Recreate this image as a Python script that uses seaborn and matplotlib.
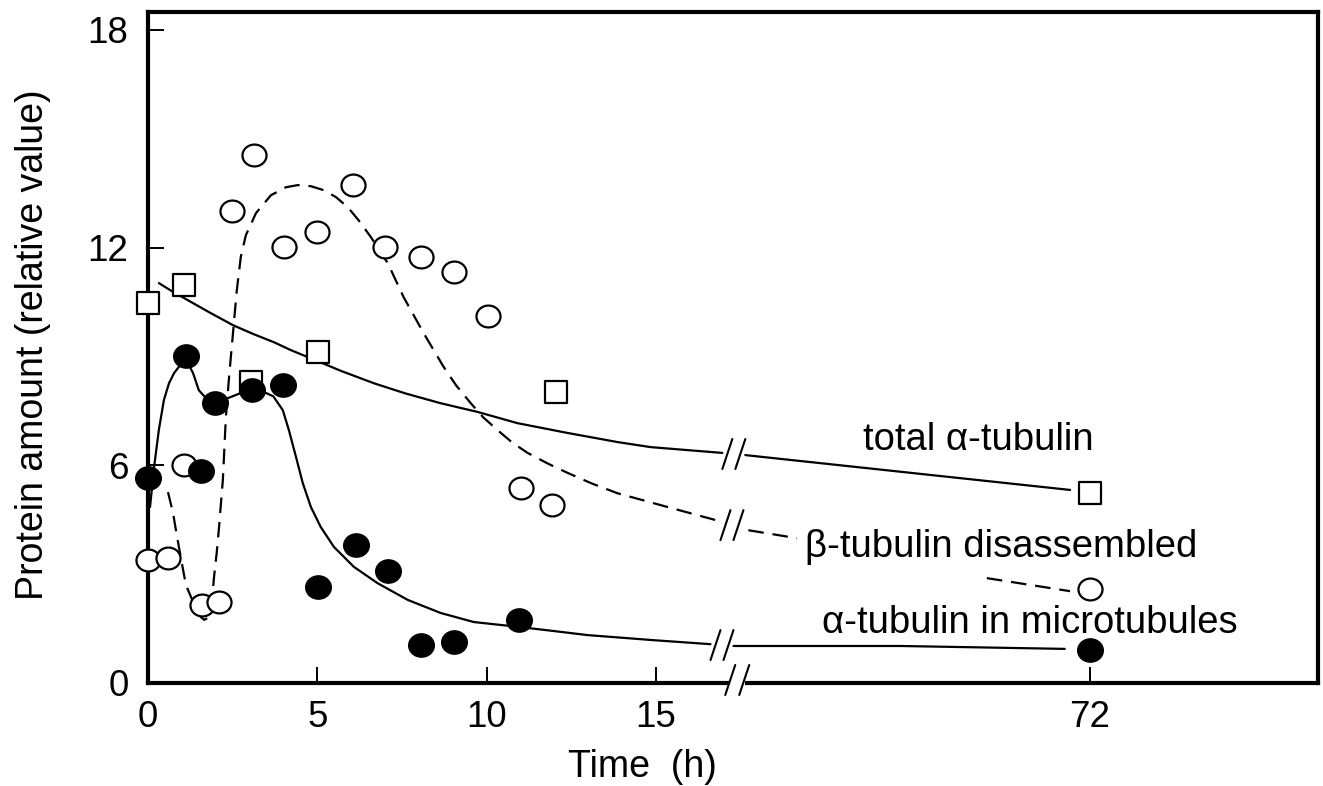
import numpy as np
import pandas as pd
import matplotlib
matplotlib.use("Agg")
import matplotlib.pyplot as plt
import seaborn as sns
from matplotlib.lines import Line2D
from matplotlib.path import Path
from matplotlib.transforms import Affine2D, IdentityTransform

# ---------------- data ----------------
# beta-tubulin disassembled (open circles)
beta_t = [0, 0.6, 1.05, 1.6, 2.1, 2.48, 3.13, 4.01, 4.99, 6.05, 6.99, 8.05, 9.03, 10.03, 11.0, 11.92, 72]
beta_y = [3.39, 3.44, 6.0, 2.15, 2.23, 13.0, 14.55, 12.01, 12.42, 13.72, 12.01, 11.74, 11.32, 10.11, 5.37, 4.9, 2.6]
# alpha-tubulin in microtubules (filled circles)
micro_t = [0, 1.12, 1.56, 1.98, 3.07, 3.98, 5.01, 6.14, 7.08, 8.05, 9.03, 10.97, 72]
micro_y = [5.65, 9.01, 5.84, 7.71, 8.07, 8.21, 2.64, 3.8, 3.09, 1.05, 1.13, 1.74, 0.91]
# total alpha-tubulin (open squares)
total_t = [0, 1.06, 3.04, 5.01, 12.04, 72]
total_y = [10.47, 10.96, 8.3, 9.12, 8.02, 5.23]

# hand-drawn guide curves (segments split at the axis break)
total_curve_t = [0.32, 0.7, 1.06, 1.8, 2.51, 3.1, 3.72, 4.2, 4.72, 5.7, 6.67, 7.6, 8.64, 9.73,
                 10.91, 12.39, 13.86, 14.84, 16.96]
total_curve_y = [11.02, 10.80, 10.61, 10.22, 9.86, 9.62, 9.39, 9.18, 8.98, 8.60, 8.26, 7.98,
                 7.71, 7.47, 7.16, 6.89, 6.64, 6.50, 6.34]
total_tail_t = [20.25, 69.0]
total_tail_y = [6.28, 5.32]

beta_curve_t = [0.59, 0.74, 0.86, 1.0, 1.12, 1.27, 1.42, 1.56, 1.66, 1.78, 1.88, 1.95, 2.03,
                2.09, 2.15, 2.21, 2.30, 2.40, 2.51, 2.62, 2.74, 2.89, 3.19, 3.63, 4.07,
                4.42, 4.81, 5.19, 5.55, 5.90, 6.22, 6.58, 7.08, 7.55, 8.14, 8.73, 9.1,
                9.53, 9.9, 10.32, 10.75, 11.21, 11.8, 12.39, 13.1, 13.86, 15.34, 16.76]
beta_curve_y = [5.26, 4.68, 4.02, 3.30, 2.70, 2.37, 2.05, 1.82, 1.74, 1.80, 2.20, 2.92, 3.60,
                4.21, 4.90, 5.59, 7.33, 8.50, 9.64, 10.80, 11.74, 12.34, 12.95, 13.44, 13.66,
                13.72, 13.69, 13.58, 13.39, 13.11, 12.75, 12.29, 11.57, 10.63, 9.64, 8.71, 8.20,
                7.71, 7.32, 6.97, 6.63, 6.34, 6.05, 5.79, 5.50, 5.23, 4.85, 4.49]
beta_tail1_t = [20.7, 28.0]
beta_tail1_y = [4.21, 3.99]
beta_tail2_t = [56.5, 69.0]
beta_tail2_y = [2.89, 2.53]

micro_curve_t = [0.06, 0.18, 0.32, 0.47, 0.62, 0.77, 0.91, 1.02, 1.12, 1.22, 1.33, 1.5, 1.71,
                 2.0, 2.36, 2.74, 3.13, 3.42, 3.7, 3.98, 4.16, 4.37, 4.57, 4.81, 5.1, 5.49,
                 6.08, 6.78, 7.67, 8.64, 9.62, 10.41, 11.0, 12.0, 12.98, 14.93, 16.61]
micro_curve_y = [4.85, 5.95, 6.97, 7.80, 8.26, 8.54, 8.71, 8.79, 8.82, 8.74, 8.54, 8.07, 7.85,
                 7.74, 7.85, 7.99, 8.02, 8.02, 7.90, 7.52, 6.97, 6.23, 5.51, 4.85, 4.30, 3.75,
                 3.20, 2.75, 2.29, 1.93, 1.68, 1.60, 1.54, 1.43, 1.32, 1.18, 1.07]
micro_tail_t = [18.47, 43.5, 68.2]
micro_tail_y = [1.02, 1.02, 0.94]

xticks = [0, 5, 10, 15, 72]
xtick_labels = ["0", "5", "10", "15", "72"]
yticks = [0, 6, 12, 18]
ytick_labels = ["0", "6", "12", "18"]

label_total = "total α-tubulin"
label_beta = "β-tubulin disassembled"
label_micro = "α-tubulin in microtubules"

# ---------------- style ----------------
sns.set_theme(style="white")
plt.rcParams["font.family"] = ["Liberation Sans", "DejaVu Sans"]

BREAK = 17.0
K = (27.82 - 17.0) / (72 - 17.0)


def fwd(t):
    t = np.asarray(t, dtype=float)
    return np.where(t <= BREAK, t, BREAK + (t - BREAK) * K)


def inv(p):
    p = np.asarray(p, dtype=float)
    return np.where(p <= BREAK, p, BREAK + (p - BREAK) / K)


W, H = 1323, 786
fig = plt.figure(figsize=(W / 100, H / 100), dpi=100)
fig.patch.set_facecolor("white")
ax = fig.add_axes([148 / W, 103 / H, 1170 / W, 671 / H])
ax.set_facecolor("white")
ax.set_xscale("function", functions=(fwd, inv))
ax.set_xlim(0, inv(34.55))
ax.set_ylim(0, 18.49)


def curve_df(*segs):
    rows = []
    for i, (ts, ys) in enumerate(segs):
        for t, y in zip(ts, ys):
            rows.append({"t": t, "y": y, "seg": i})
    return pd.DataFrame(rows)


df_total = curve_df((total_curve_t, total_curve_y), (total_tail_t, total_tail_y))
df_beta = curve_df((beta_curve_t, beta_curve_y), (beta_tail1_t, beta_tail1_y),
                   (beta_tail2_t, beta_tail2_y))
df_micro = curve_df((micro_curve_t, micro_curve_y), (micro_tail_t, micro_tail_y))

line_kw = dict(x="t", y="y", units="seg", estimator=None, sort=False,
               color="black", lw=1.6, ax=ax, legend=False)
sns.lineplot(data=df_total, solid_joinstyle="round", **line_kw)
sns.lineplot(data=df_micro, solid_joinstyle="round", **line_kw)
sns.lineplot(data=df_beta, linestyle=(0, (7, 4)), **line_kw)

ellipse = Path.unit_circle().transformed(Affine2D().scale(1.1, 1.0))

sns.scatterplot(x=total_t, y=total_y, marker="s", s=235, facecolor="white",
                edgecolor="black", linewidth=1.6, ax=ax, zorder=4, clip_on=False)
sns.scatterplot(x=beta_t, y=beta_y, marker=ellipse, s=300, facecolor="white",
                edgecolor="black", linewidth=1.6, ax=ax, zorder=4, clip_on=False)
sns.scatterplot(x=micro_t, y=micro_y, marker=ellipse, s=340, color="black",
                edgecolor="black", linewidth=1.0, ax=ax, zorder=5, clip_on=False)

# axes styling
for sp in ax.spines.values():
    sp.set_visible(True)
    sp.set_color("black")
    sp.set_linewidth(3.0)
ax.set_xticks(xticks)
ax.set_xticklabels(xtick_labels)
ax.set_yticks(yticks)
ax.set_yticklabels(ytick_labels)
ax.minorticks_off()
ax.tick_params(axis="both", direction="in", length=11.5, width=1.4,
               color="black", labelcolor="black", labelsize=26.5)
ax.tick_params(axis="x", pad=12, bottom=True)
ax.tick_params(axis="y", pad=14, left=True)
ax.set_xlabel("Time  (h)", fontsize=27, color="black")
ax.set_ylabel("Protein amount (relative value)", fontsize=27, color="black")
ax.xaxis.set_label_coords(0.423, -0.098)
ax.yaxis.set_label_coords(-0.083, 0.504)

# curve labels
txt_kw = dict(transform=ax.transAxes, fontsize=27.5, color="black", va="baseline", ha="left")
ax.text(0.611, 0.347, label_total, **txt_kw)
ax.text(0.5615, 0.188, label_beta, **txt_kw)
ax.text(0.576, 0.0745, label_micro, **txt_kw)

# ---------------- break marks ----------------
def slash_pair(cx, cy, sep=6.5, hw=5, hh=15):
    for dx in (-sep, sep):
        x0 = cx + dx
        fig.add_artist(Line2D([x0 - hw, x0 + hw], [cy - hh, cy + hh],
                              transform=IdentityTransform(), color="black", lw=1.5,
                              zorder=10))


def gap_mid(t_a, y_a, t_b, y_b):
    pa = ax.transData.transform((t_a, y_a))
    pb = ax.transData.transform((t_b, y_b))
    return (pa + pb) / 2


for (ta, ya, tb, yb) in [
    (total_curve_t[-1], total_curve_y[-1], total_tail_t[0], total_tail_y[0]),
    (beta_curve_t[-1], beta_curve_y[-1], beta_tail1_t[0], beta_tail1_y[0]),
    (micro_curve_t[-1], micro_curve_y[-1], micro_tail_t[0], micro_tail_y[0]),
]:
    c = gap_mid(ta, ya, tb, yb)
    slash_pair(c[0], c[1])

# axis break
axis_break_t = inv(17.4)
c = ax.transData.transform((axis_break_t, 0))
fig.add_artist(Line2D([c[0] - 8, c[0] + 8], [c[1], c[1]], transform=IdentityTransform(),
                      color="white", lw=7, solid_capstyle="butt", zorder=9))
slash_pair(c[0], c[1] + 3, sep=7)

fig.savefig("out.png", dpi=100, facecolor="white")
